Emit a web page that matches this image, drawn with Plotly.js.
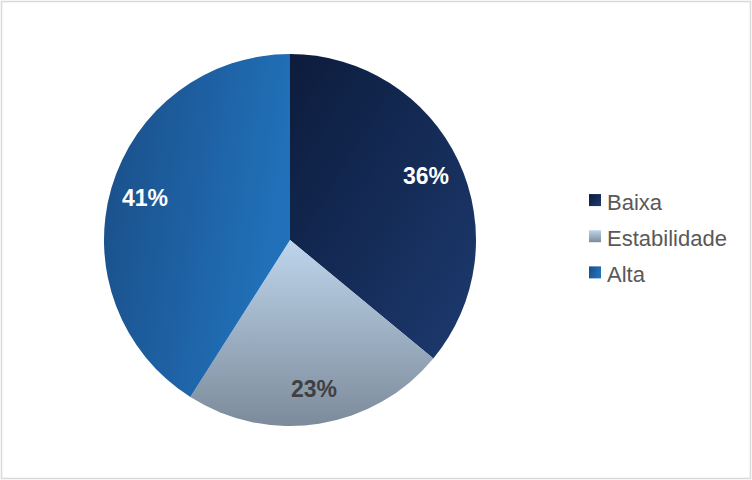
<!DOCTYPE html>
<html><head><meta charset="utf-8">
<script src="https://cdn.plot.ly/plotly-3.0.1.min.js"></script>
<style>html,body{margin:0;padding:0;background:#fff}</style>
</head><body>
<div id="chart" style="width:752px;height:480px"></div>
<script>
const categories = ["Baixa", "Estabilidade", "Alta"];
const values = [36, 23, 41];
const sliceColors = ["#152c5e", "#9bb0c6", "#1d62a6"];
const labelColors = ["#ffffff", "#404040", "#ffffff"];

const cxPx = 290, cyPx = 240, rPx = 186, W = 752, H = 480;
const total = values.reduce((a, b) => a + b, 0);
let cum = 0;
const annotations = values.map((v, i) => {
  const mid = (cum + v / 2) / total * 2 * Math.PI;
  cum += v;
  const rr = 0.81 * rPx;
  return {
    x: (cxPx + rr * Math.sin(mid)) / W,
    y: 1 - (cyPx - rr * Math.cos(mid)) / H,
    xref: "paper", yref: "paper", xanchor: "center", yanchor: "middle", showarrow: false,
    text: Math.round(v / total * 100) + "%",
    font: {family: "Liberation Sans, Arial, sans-serif", size: 23, color: labelColors[i], weight: "bold"}
  };
});

const trace = {
  type: "pie",
  labels: categories,
  values: values,
  sort: false,
  direction: "clockwise",
  rotation: 0,
  textinfo: "none",
  hoverinfo: "label+percent",
  marker: {colors: sliceColors, line: {width: 0}},
  domain: {x: [(cxPx - rPx) / W, (cxPx + rPx) / W], y: [1 - (cyPx + rPx) / H, 1 - (cyPx - rPx) / H]}
};

const layout = {
  width: W, height: H,
  margin: {l: 0, r: 0, t: 0, b: 0},
  paper_bgcolor: "#ffffff",
  showlegend: true,
  legend: {
    x: 567 / W, xanchor: "left", y: 1 - 177 / H, yanchor: "top",
    font: {family: "Liberation Sans, Arial, sans-serif", size: 25.5, color: "#595959"},
    bgcolor: "rgba(0,0,0,0)"
  },
  annotations: annotations,
  shapes: [{type: "rect", xref: "paper", yref: "paper", x0: 1.5 / W, x1: 1 - 1.5 / W, y0: 1.5 / H, y1: 1 - 1.5 / H,
    line: {color: "#d9d9d9", width: 1.5}}]
};

Plotly.newPlot("chart", [trace], layout, {displayModeBar: false, staticPlot: true}).then(gd => {
  const svg = gd.querySelector(".main-svg");
  const NS = "http://www.w3.org/2000/svg";
  let defs = svg.querySelector("defs");
  if (!defs) { defs = document.createElementNS(NS, "defs"); svg.insertBefore(defs, svg.firstChild); }
  const grads = [
    {id: "gBaixa", x1: 0, y1: 0, x2: 1, y2: 1, stops: ["#0c1c3c", "#1d3a70"]},
    {id: "gEstab", x1: 0, y1: 0, x2: 0, y2: 1, stops: ["#bed5ec", "#7c8b9b"]},
    {id: "gAlta", x1: 0, y1: 0, x2: 1, y2: 0.3, stops: ["#1a4d86", "#2171ba"]}
  ];
  grads.forEach(g => {
    const lg = document.createElementNS(NS, "linearGradient");
    lg.setAttribute("id", g.id);
    lg.setAttribute("x1", g.x1); lg.setAttribute("y1", g.y1);
    lg.setAttribute("x2", g.x2); lg.setAttribute("y2", g.y2);
    g.stops.forEach((c, k) => {
      const s = document.createElementNS(NS, "stop");
      s.setAttribute("offset", k === 0 ? "0" : "1");
      s.setAttribute("stop-color", c);
      lg.appendChild(s);
    });
    defs.appendChild(lg);
  });
  const paths = gd.querySelectorAll(".pielayer .slice path.surface");
  paths.forEach((p, i) => { p.style.fill = "url(#" + grads[i].id + ")"; });
  const legPts = gd.querySelectorAll(".legend .legendpoints path");
  legPts.forEach((p, i) => { p.style.fill = "url(#" + grads[i].id + ")"; });
  gd.querySelectorAll(".legend .legendpoints").forEach(g => { g.setAttribute("transform", "translate(8,0)"); });
  gd.querySelectorAll(".legend .legendtext").forEach(t => { t.style.fontSize = "22px"; });
});
</script>
</body></html>
